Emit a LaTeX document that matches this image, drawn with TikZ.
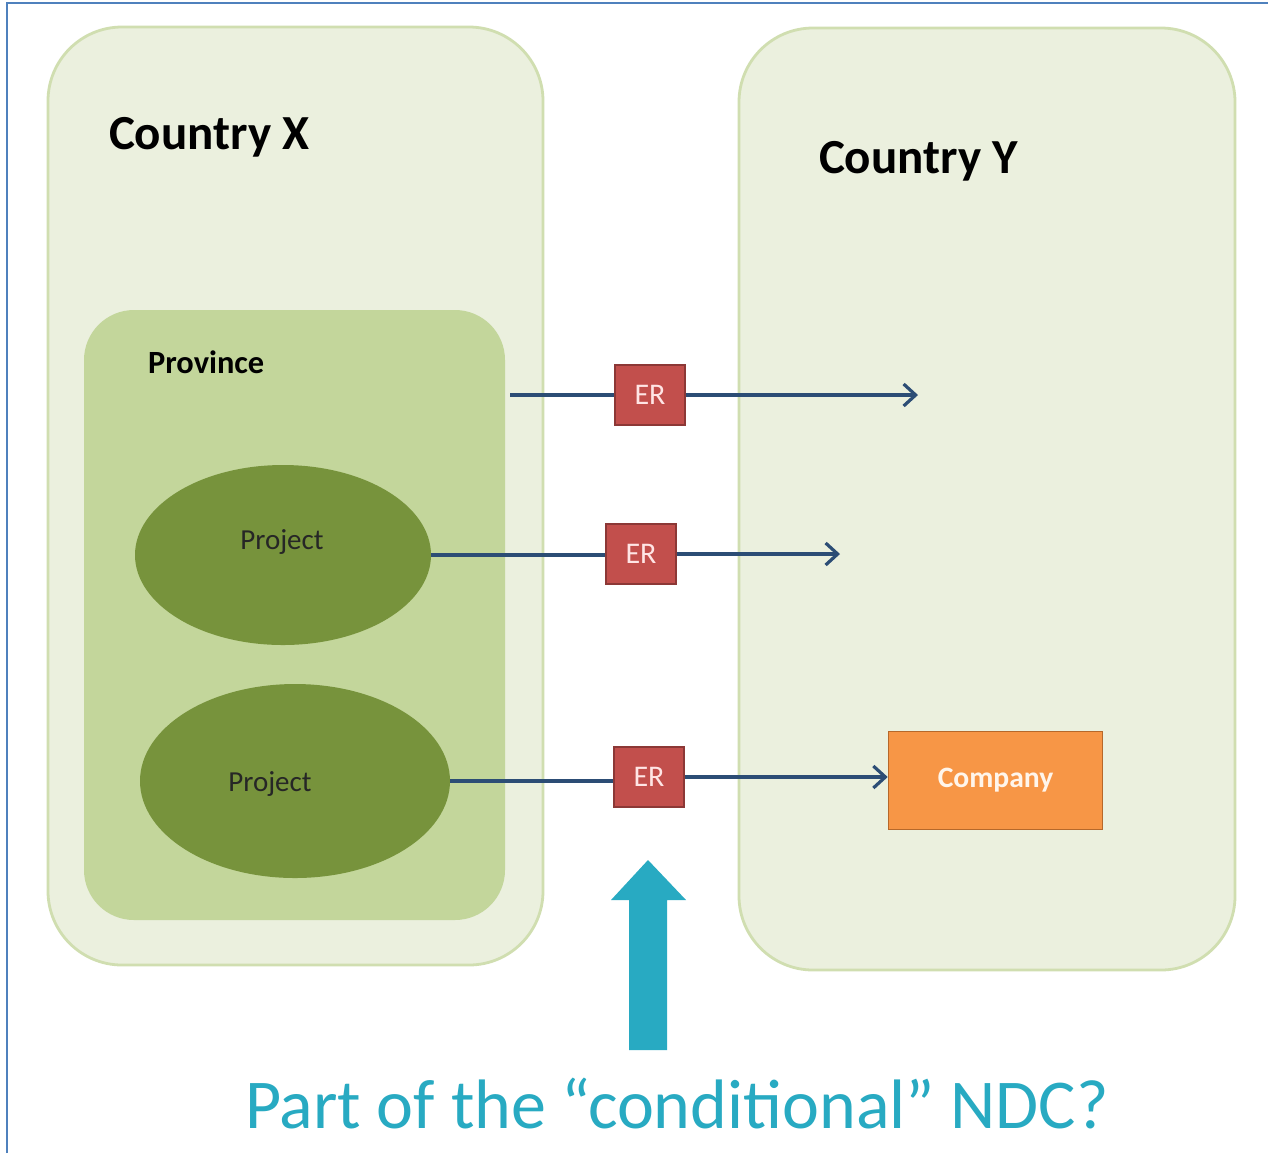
\documentclass[tikz,border=0pt]{standalone}
\usepackage{fontspec}
\setmainfont{Carlito}
\usepackage{xcolor}
\usetikzlibrary{shapes.geometric, arrows.meta, positioning, calc}

\definecolor{frameblue}{RGB}{79,129,189}
\definecolor{countryfill}{RGB}{235,240,222}
\definecolor{countryline}{RGB}{208,222,176}
\definecolor{provfill}{RGB}{195,214,155}
\definecolor{projfill}{RGB}{119,147,60}
\definecolor{erfill}{RGB}{194,79,76}
\definecolor{erline}{RGB}{140,56,54}
\definecolor{compfill}{RGB}{247,150,70}
\definecolor{compline}{RGB}{182,104,42}
\definecolor{flowblue}{RGB}{44,77,117}
\definecolor{teal}{RGB}{40,170,194}

\begin{document}
\begin{tikzpicture}[x=0.5pt, y=-0.5pt,
    country/.style={rectangle, draw=countryline, line width=1.4pt, fill=countryfill, rounded corners=37pt, inner sep=0pt},
    title/.style={anchor=base west, font=\bfseries\fontsize{24.5}{29}\selectfont},
    province/.style={rectangle, fill=provfill, rounded corners=25pt, inner sep=0pt},
    project/.style={ellipse, fill=projfill, inner sep=0pt, text=black!85, font=\fontsize{14.5}{17}\selectfont},
    erbox/.style={rectangle, draw=erline, line width=0.6pt, fill=erfill, minimum width=35pt, minimum height=30pt, inner sep=0pt, text=red!10, font=\fontsize{15}{17}\selectfont},
    company/.style={rectangle, draw=compline, line width=0.8pt, fill=compfill, minimum width=107pt, minimum height=49pt, inner sep=0pt, text=orange!8, font=\bfseries\fontsize{14.8}{17}\selectfont},
    flow/.style={draw=flowblue, line width=1.6pt},
    flowarr/.style={flow, -{Straight Barb[length=6pt, width=11pt, line width=1.6pt]}}]

    \useasboundingbox (0,0) rectangle (1268,1153);
    \fill[white] (0,0) rectangle (1268,1153);
    \draw[frameblue, line width=1.2pt] (7,1153) -- (7,3) -- (1268,3);

    % countries
    \node [country, minimum width=247.5pt, minimum height=469pt] (cx) at (295.5,496) {};
    \node [country, minimum width=248pt, minimum height=471pt] (cy) at (987,499) {};
    \node [title] (cxlabel) at (102,149) {Country X};
    \node [title] (cylabel) at (812,173) {Country Y};

    % province and projects
    \node [province, minimum width=210.5pt, minimum height=305pt] (prov) at (294.5,615) {};
    \node [anchor=base west, font=\bfseries\fontsize{16.2}{19}\selectfont] (provlabel) at (141,373) {Province};
    \node [project, minimum width=148pt, minimum height=90pt] (proj1) at (283,555) {};
    \node [project, minimum width=155pt, minimum height=97pt] (proj2) at (295,781) {};
    \node [project, fill=none] (proj1label) at (282,542) {Project};
    \node [project, fill=none] (proj2label) at (270,784) {Project};

    % emission reductions
    \node [erbox] (er1) at (650,395) {ER};
    \node [erbox] (er2) at (641,554) {ER};
    \node [erbox] (er3) at (649,777) {ER};
    \node [company] (comp) at (995.5,780.5) {Company};

    \coordinate (start1) at (510,395);
    \coordinate (end1) at (918,395);
    \coordinate (end2) at (840,554);

    \draw [flow] (start1) -- (er1);
    \draw [flowarr] (er1) -- (end1);
    \draw [flow] (proj1.east) -- (proj1.east -| er2.west);
    \draw [flowarr] (er2) -- (end2);
    \draw [flow] (proj2.east) -- (proj2.east -| er3.west);
    \draw [flowarr] (er3) -- (comp.west |- er3);

    % question
    \fill [teal] (629,1050) -- (629,900) -- (611,900) -- (648,860) -- (686,900) -- (667,900) -- (667,1050) -- cycle;
    \node [anchor=base, text=teal, font=\fontsize{35}{40}\selectfont] (question) at (677,1128) {Part of the “conditional” NDC?};
\end{tikzpicture}
\end{document}
